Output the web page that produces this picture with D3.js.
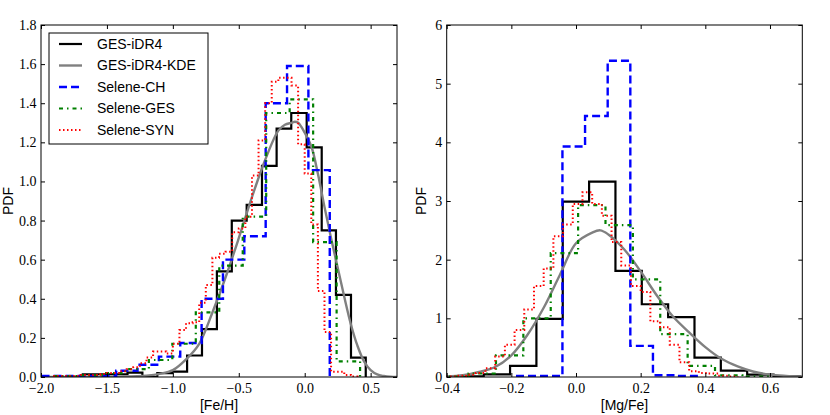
<!DOCTYPE html>
<html>
<head>
<meta charset="utf-8">
<script src="https://cdn.jsdelivr.net/npm/d3@7"></script>
<style>
  body { margin: 0; background: #fff; }
  .tick text { font-family: "Liberation Serif", serif; font-size: 14px; fill: #000; }
  .ax-label { font-family: "Liberation Sans", Arial, sans-serif; font-size: 14px; }
  .legend text { font-family: "Liberation Sans", Arial, sans-serif; font-size: 14px; }
</style>
</head>
<body>
<svg id="chart" width="830" height="415"></svg>
<script>
// ---- [Fe/H] panel ----
// GES-iDR4 histogram (bin edges listed, PDF per bin)
const fehGesEdges = [-1.683, -1.570, -1.457, -1.344, -1.231, -1.118, -1.005, -0.892, -0.779, -0.666,
                     -0.553, -0.440, -0.324, -0.213, -0.102, 0.015, 0.129, 0.237, 0.351, 0.463];
const fehGesPdf = [0.014, 0.014, 0.014, 0.022, 0.0, 0.02, 0.027, 0.11, 0.245, 0.54,
                   0.80, 0.88, 1.08, 1.27, 1.35, 1.174, 0.75, 0.42, 0.099];

// Selene-CH
const fehChStart = -2.078, fehChWidth = 0.162;
const fehChPdf = [0.006, 0.006, 0.006, 0.006, 0.032, 0.063, 0.104, 0.174, 0.40, 0.60, 0.72, 1.40, 1.59, 1.058];

// Selene-GES
const fehSgStart = -1.894, fehSgWidth = 0.178;
const fehSgPdf = [0.005, 0.008, 0.02, 0.04, 0.087, 0.17, 0.33, 0.57, 0.82, 1.35, 1.42, 0.69, 0.08];

// Selene-SYN
const fehSynStart = -1.90, fehSynWidth = 0.05;
const fehSynPdf = [0.005, 0.005, 0.005, 0.005, 0.01, 0.01, 0.01, 0.015, 0.02, 0.02,
                   0.03, 0.04, 0.05, 0.07, 0.10, 0.13, 0.13, 0.12, 0.17, 0.24,
                   0.275, 0.28, 0.38, 0.47, 0.61, 0.63, 0.64, 0.74, 0.76, 0.82,
                   1.03, 1.21, 1.40, 1.51, 1.53, 1.53, 1.49, 1.19, 1.04, 0.78,
                   0.44, 0.23, 0.027, 0.027, 0.01, 0.003];

// GES-iDR4 KDE
const fehKdeX = [-2.0, -1.8, -1.6, -1.4, -1.2, -1.1, -1.0, -0.9, -0.8, -0.7, -0.6, -0.5, -0.4, -0.3,
                 -0.2, -0.15, -0.1, -0.075, -0.05, 0.0, 0.05, 0.1, 0.15, 0.2, 0.25, 0.3, 0.35, 0.4,
                 0.45, 0.5, 0.55, 0.6, 0.65, 0.7];
const fehKdePdf = [0.0, 0.0, 0.001, 0.002, 0.007, 0.016, 0.035, 0.09, 0.17, 0.33, 0.51, 0.71, 0.92, 1.11,
                   1.26, 1.29, 1.30, 1.305, 1.30, 1.25, 1.18, 1.04, 0.87, 0.71, 0.56, 0.41, 0.27, 0.16,
                   0.08, 0.035, 0.013, 0.005, 0.001, 0.0];

// ---- [Mg/Fe] panel ----
const mgGesStart = -0.367, mgGesWidth = 0.0815;
const mgGesPdf = [0.01, 0.045, 0.19, 0.99, 2.99, 3.33, 1.81, 1.24, 1.02, 0.33, 0.11, 0.04, 0.01];

const mgChStart = -0.182, mgChWidth = 0.07;
const mgChPdf = [0.02, 0.02, 3.93, 4.45, 5.39, 0.53, 0.03, 0.02];

const mgSgStart = -0.417, mgSgWidth = 0.0847;
const mgSgPdf = [0.005, 0.06, 0.37, 1.0, 2.11, 2.93, 2.59, 1.665, 0.73, 0.19, 0.03, 0.005];

const mgSynStart = -0.40, mgSynWidth = 0.03;
const mgSynPdf = [0.01, 0.02, 0.04, 0.07, 0.15, 0.35, 0.55, 0.80, 1.15, 1.55,
                  1.85, 2.40, 2.60, 2.95, 3.15, 2.95, 2.75, 2.30, 1.90, 1.55,
                  1.45, 0.95, 0.85, 0.55, 0.25, 0.10, 0.07, 0.06, 0.02, 0.01];

const mgKdeX = [-0.4, -0.35, -0.3, -0.25, -0.2, -0.15, -0.1, -0.05, 0.0, 0.05, 0.075, 0.1, 0.15,
                0.2, 0.25, 0.3, 0.35, 0.4, 0.45, 0.5, 0.55, 0.6, 0.65, 0.7];
const mgKdePdf = [0.01, 0.03, 0.085, 0.17, 0.37, 0.72, 1.18, 1.74, 2.28, 2.46, 2.50, 2.43, 2.17,
                  1.80, 1.39, 1.03, 0.76, 0.51, 0.31, 0.18, 0.09, 0.04, 0.02, 0.01];

// tick values
const fehXTicks = [-2.0, -1.5, -1.0, -0.5, 0.0, 0.5];
const fehYTicks = [0.0, 0.2, 0.4, 0.6, 0.8, 1.0, 1.2, 1.4, 1.6, 1.8];
const mgXTicks = [-0.4, -0.2, 0.0, 0.2, 0.4, 0.6];
const mgYTicks = [0, 1, 2, 3, 4, 5, 6];

const legendNames = ["GES-iDR4", "GES-iDR4-KDE", "Selene-CH", "Selene-GES", "Selene-SYN"];

// line styles per series
const styles = {
  ges: { stroke: "#000", width: 2.2, dash: null },
  kde: { stroke: "#808080", width: 2.4, dash: null },
  ch:  { stroke: "#0000ff", width: 2.4, dash: "8,4" },
  sg:  { stroke: "#008000", width: 2.2, dash: "4,4,1.5,4" },
  syn: { stroke: "#ff0000", width: 2.0, dash: "1.5,2.5" }
};
const legendKeys = ["ges", "kde", "ch", "sg", "syn"];

const svg = d3.select("#chart");

function edgesFrom(start, width, n) {
  return d3.range(n + 1).map(i => start + i * width);
}

function stepPoints(edges, pdf) {
  const pts = [[edges[0], 0]];
  pdf.forEach((h, i) => { pts.push([edges[i], h]); pts.push([edges[i + 1], h]); });
  pts.push([edges[edges.length - 1], 0]);
  return pts;
}

function applyStyle(sel, s) {
  sel.attr("fill", "none")
    .attr("stroke", s.stroke)
    .attr("stroke-width", s.width)
    .attr("stroke-dasharray", s.dash)
    .attr("stroke-linejoin", "miter");
}

function drawPanel(p) {
  const g = svg.append("g");
  const x = d3.scaleLinear().domain(p.xDomain).range([p.x0, p.x1]);
  const y = d3.scaleLinear().domain(p.yDomain).range([377, 25]);

  const clipId = "clip-" + p.id;
  g.append("clipPath").attr("id", clipId)
    .append("rect").attr("x", p.x0).attr("y", 25).attr("width", p.x1 - p.x0).attr("height", 352);

  const plot = g.append("g").attr("clip-path", `url(#${clipId})`);
  const line = d3.line().x(d => x(d[0])).y(d => y(d[1]));

  p.hists.forEach(h => {
    if (h.key === "kde") {
      plot.append("path")
        .datum(h.xs.map((v, i) => [v, h.ys[i]]))
        .attr("d", d3.line().x(d => x(d[0])).y(d => y(d[1])).curve(d3.curveCatmullRom))
        .call(applyStyle, styles.kde);
    } else {
      plot.append("path")
        .datum(stepPoints(h.edges, h.pdf))
        .attr("d", line)
        .call(applyStyle, styles[h.key]);
    }
  });

  // axes: inward ticks on all sides
  g.append("g").attr("transform", "translate(0,377)")
    .call(d3.axisBottom(x).tickValues(p.xTicks).tickFormat(p.xFmt).tickSizeInner(-4).tickSizeOuter(0).tickPadding(6))
    .call(a => a.select(".domain").remove());
  g.append("g").attr("transform", "translate(0,25)")
    .call(d3.axisTop(x).tickValues(p.xTicks).tickFormat("").tickSizeInner(-4).tickSizeOuter(0))
    .call(a => a.select(".domain").remove());
  g.append("g").attr("transform", `translate(${p.x0},0)`)
    .call(d3.axisLeft(y).tickValues(p.yTicks).tickFormat(p.yFmt).tickSizeInner(-4).tickSizeOuter(0).tickPadding(4.5))
    .call(a => a.select(".domain").remove());
  g.append("g").attr("transform", `translate(${p.x1},0)`)
    .call(d3.axisRight(y).tickValues(p.yTicks).tickFormat("").tickSizeInner(-4).tickSizeOuter(0))
    .call(a => a.select(".domain").remove());

  g.append("rect")
    .attr("x", p.x0).attr("y", 25).attr("width", p.x1 - p.x0).attr("height", 352)
    .attr("fill", "none").attr("stroke", "#000").attr("stroke-width", 1);

  g.append("text").attr("class", "ax-label")
    .attr("x", (p.x0 + p.x1) / 2).attr("y", 410)
    .attr("text-anchor", "middle").text(p.xLabel);
  g.append("text").attr("class", "ax-label")
    .attr("transform", `translate(${p.yLabelX},201) rotate(-90)`)
    .attr("text-anchor", "middle").attr("dy", "0.35em").text("PDF");
  return g;
}

drawPanel({
  id: "feh", x0: 41, x1: 397, xDomain: [-2.0, 0.7], yDomain: [0, 1.8],
  xTicks: fehXTicks, yTicks: fehYTicks, xFmt: d3.format(".1f"), yFmt: d3.format(".1f"),
  xLabel: "[Fe/H]", yLabelX: 8,
  hists: [
    { key: "ges", edges: fehGesEdges, pdf: fehGesPdf },
    { key: "kde", xs: fehKdeX, ys: fehKdePdf },
    { key: "ch", edges: edgesFrom(fehChStart, fehChWidth, fehChPdf.length), pdf: fehChPdf },
    { key: "sg", edges: edgesFrom(fehSgStart, fehSgWidth, fehSgPdf.length), pdf: fehSgPdf },
    { key: "syn", edges: edgesFrom(fehSynStart, fehSynWidth, fehSynPdf.length), pdf: fehSynPdf }
  ]
});

drawPanel({
  id: "mg", x0: 446.7, x1: 802.3, xDomain: [-0.4, 0.7], yDomain: [0, 6],
  xTicks: mgXTicks, yTicks: mgYTicks, xFmt: d3.format(".1f"), yFmt: d3.format("d"),
  xLabel: "[Mg/Fe]", yLabelX: 421,
  hists: [
    { key: "ges", edges: edgesFrom(mgGesStart, mgGesWidth, mgGesPdf.length), pdf: mgGesPdf },
    { key: "kde", xs: mgKdeX, ys: mgKdePdf },
    { key: "ch", edges: edgesFrom(mgChStart, mgChWidth, mgChPdf.length), pdf: mgChPdf },
    { key: "sg", edges: edgesFrom(mgSgStart, mgSgWidth, mgSgPdf.length), pdf: mgSgPdf },
    { key: "syn", edges: edgesFrom(mgSynStart, mgSynWidth, mgSynPdf.length), pdf: mgSynPdf }
  ]
});

// legend in the left panel
const legend = svg.append("g").attr("class", "legend");
legend.append("rect")
  .attr("x", 49).attr("y", 33).attr("width", 159).attr("height", 111)
  .attr("fill", "#fff").attr("stroke", "#000").attr("stroke-width", 1);

const items = legend.selectAll(".item")
  .data(legendNames)
  .enter().append("g")
  .attr("class", "item")
  .attr("transform", (d, i) => `translate(0, ${44 + i * 21.5})`);

items.append("line")
  .attr("x1", 59).attr("x2", 82).attr("y1", 0).attr("y2", 0)
  .each(function (d, i) { d3.select(this).call(applyStyle, styles[legendKeys[i]]); });

items.append("text")
  .attr("x", 97).attr("y", 0).attr("dy", "0.35em")
  .text(d => d);
</script>
</body>
</html>
